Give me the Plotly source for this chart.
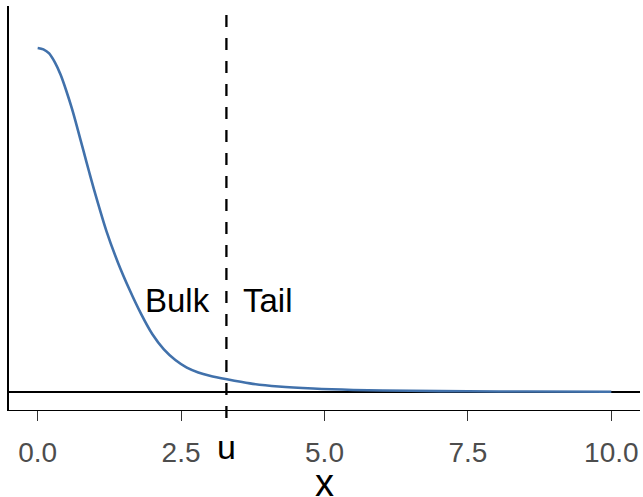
import plotly.graph_objects as go

# ---- data ----
curve_x = [0.0, 0.1, 0.2, 0.3, 0.4, 0.5, 0.6, 0.7, 0.8, 0.9, 1.0, 1.2, 1.4, 1.6, 1.8, 2.0, 2.2, 2.4,
           2.6, 2.8, 3.0, 3.3, 3.7, 4.2, 4.8, 5.5, 6.5, 7.5, 8.5, 10.0]
curve_y = [1.0, 0.996, 0.984, 0.958, 0.922, 0.875, 0.822, 0.762, 0.700, 0.638, 0.578, 0.467, 0.376,
           0.298, 0.228, 0.168, 0.124, 0.093, 0.071, 0.057, 0.0475, 0.037, 0.025, 0.016, 0.010,
           0.006, 0.0035, 0.002, 0.0013, 0.0008]
threshold_u = 3.29
tick_vals = [0.0, 2.5, 5.0, 7.5, 10.0]
tick_text = ["0.0", "2.5", "5.0", "7.5", "10.0"]
region_labels = ["Bulk", "Tail"]
label_height = 0.265

FONT = "Liberation Sans, Arial, sans-serif"

fig = go.Figure()
fig.add_trace(go.Scatter(x=curve_x, y=curve_y, mode="lines",
                         line=dict(color="#4171AB", width=2.6, shape="spline", smoothing=0.8),
                         hoverinfo="skip", showlegend=False))

# horizontal zero line
fig.add_shape(type="line", xref="paper", yref="y", x0=0, x1=1, y0=0, y1=0,
              line=dict(color="black", width=2.2), layer="below")
# dashed threshold line
fig.add_shape(type="line", xref="x", yref="paper", x0=threshold_u, x1=threshold_u,
              y0=0.9777, y1=-0.0248,
              line=dict(color="black", width=2.3, dash="12px,11px"), layer="above")

fig.add_annotation(x=threshold_u - 0.25, y=label_height, xref="x", yref="y",
                   text=region_labels[0], showarrow=False, xanchor="right", yanchor="middle",
                   font=dict(family=FONT, size=33, color="black"))
fig.add_annotation(x=threshold_u + 0.25, y=label_height, xref="x", yref="y",
                   text=region_labels[1], showarrow=False, xanchor="left", yanchor="middle",
                   font=dict(family=FONT, size=33, color="black"))
fig.add_annotation(x=threshold_u, y=-0.0928, xref="x", yref="paper",
                   text="u", showarrow=False, xanchor="center", yanchor="middle",
                   font=dict(family=FONT, size=34, color="black"))
# x-axis title
fig.add_annotation(x=0.5, y=-0.181, xref="paper", yref="paper",
                   text="x", showarrow=False, xanchor="center", yanchor="middle",
                   font=dict(family=FONT, size=38, color="black"))

fig.update_xaxes(range=[-0.5, 10.5], tickmode="array", tickvals=tick_vals, ticktext=tick_text,
                 showline=True, linecolor="black", linewidth=1.4,
                 ticks="outside", ticklen=10, tickwidth=1.4, tickcolor="#333333",
                 tickfont=dict(family=FONT, size=28, color="#4D4D4D"),
                 ticklabelstandoff=7,
                 showgrid=False, zeroline=False, automargin=False)
fig.update_yaxes(range=[-0.0523, 1.122], showline=True, linecolor="black", linewidth=1.6,
                 showticklabels=False, ticks="", showgrid=False, zeroline=False, automargin=False)

fig.update_layout(width=643, height=497, margin=dict(l=9, r=3, t=6, b=87),
                  plot_bgcolor="white", paper_bgcolor="white", showlegend=False)

fig.write_html("out.html", config={"displayModeBar": False},
               post_script="document.body.style.margin='0';")
